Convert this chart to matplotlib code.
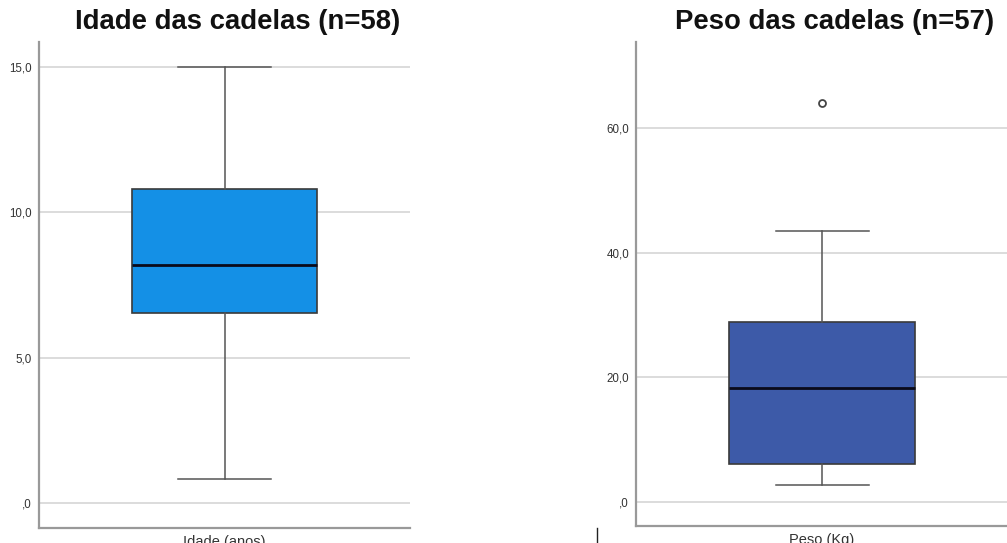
import matplotlib.pyplot as plt
from matplotlib.lines import Line2D

plt.rcParams['font.family'] = ['Liberation Sans', 'DejaVu Sans']

# resumo dos boxplots (min, q1, mediana, q3, max, outliers)
idade_stats = dict(whislo=0.83, q1=6.54, med=8.19, q3=10.8, whishi=15.0, fliers=[])
peso_stats = dict(whislo=2.7, q1=6.1, med=18.3, q3=28.9, whishi=43.5, fliers=[64.0])

idade_ticks = [0, 5, 10, 15]
idade_labels = [',0', '5,0', '10,0', '15,0']
peso_ticks = [0, 20, 40, 60]
peso_labels = [',0', '20,0', '40,0', '60,0']

titulos = ['Idade das cadelas (n=58)', 'Peso das cadelas (n=57)']
rotulos_x = ['Idade (anos)', 'Peso (Kg)']
cores = ['#1490E6', '#3D5AA8']

fig = plt.figure(figsize=(10.07, 5.43), dpi=100)
ax1 = fig.add_axes([0.0387, 0.0276, 0.3685, 0.8951])
ax2 = fig.add_axes([0.6316, 0.0313, 0.3694, 0.8914])


def desenha(ax, stats, cor, ticks, labels, ylim, titulo, rotulo, xtit):
    ax.bxp([stats], positions=[1], widths=0.5, patch_artist=True,
           boxprops=dict(facecolor=cor, edgecolor='#3a3a3a', linewidth=1.2),
           medianprops=dict(color='#0a0a1a', linewidth=2),
           whiskerprops=dict(color='#555555', linewidth=1.1),
           capprops=dict(color='#555555', linewidth=1.1),
           flierprops=dict(marker='o', markersize=5, markerfacecolor='white',
                           markeredgecolor='#444444', markeredgewidth=1.3),
           capwidths=0.25, showfliers=True)
    ax.set_xlim(0.5, 1.5)
    ax.set_ylim(*ylim)
    ax.set_yticks(ticks)
    ax.set_yticklabels(labels, fontsize=8.3, color='#333333')
    ax.set_xticks([])
    ax.yaxis.grid(True, color='#d6d6d6', linewidth=1.2)
    ax.set_axisbelow(True)
    ax.tick_params(axis='y', length=0, pad=5)
    for s in ['top', 'right']:
        ax.spines[s].set_visible(False)
    for s in ['left', 'bottom']:
        ax.spines[s].set_color('#999999')
        ax.spines[s].set_linewidth(1.6)
    fig.text(xtit, 1 - 22 / 543, titulo, fontsize=19.8, fontweight='bold',
             ha='center', va='center', color='#111111')
    ax.text(1, -0.014, rotulo, transform=ax.get_xaxis_transform(),
            fontsize=10.5, ha='center', va='top', color='#333333')


desenha(ax1, idade_stats, cores[0], idade_ticks, idade_labels, (-0.86, 15.86),
        titulos[0], rotulos_x[0], 238 / 1007)
desenha(ax2, peso_stats, cores[1], peso_ticks, peso_labels, (-3.85, 73.8),
        titulos[1], rotulos_x[1], 835 / 1007)

# pequeno traço vertical entre os painéis
fig.add_artist(Line2D([597 / 1007, 597 / 1007], [0, 15 / 543],
                      color='#222222', linewidth=1))

fig.savefig('out.png', dpi=100, facecolor='white')
